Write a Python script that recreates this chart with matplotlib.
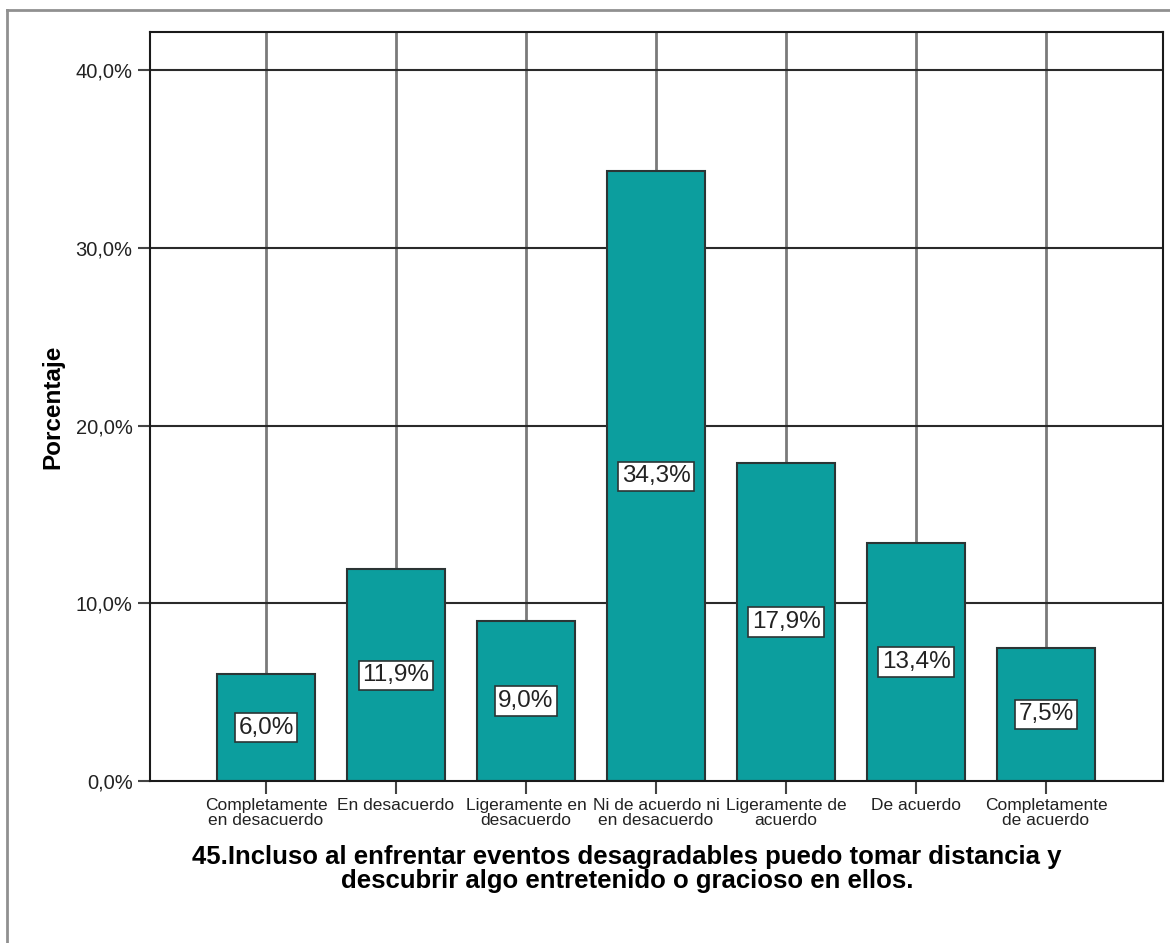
import numpy as np
import matplotlib as mlp
mlp.use('Agg')
import matplotlib.pyplot as plt
from matplotlib.lines import Line2D

mlp.rcParams['font.family'] = ['Liberation Sans', 'DejaVu Sans']

cats = ["Completamente\nen desacuerdo", "En desacuerdo", "Ligeramente en\ndesacuerdo",
        "Ni de acuerdo ni\nen desacuerdo", "Ligeramente de\nacuerdo", "De acuerdo",
        "Completamente\nde acuerdo"]
vals = [6.0, 11.9, 9.0, 34.3, 17.9, 13.4, 7.5]
yticks = [0, 10, 20, 30, 40]
title = ("45.Incluso al enfrentar eventos desagradables puedo tomar distancia y\n"
         "descubrir algo entretenido o gracioso en ellos.")

W, H = 1170, 943
fig = plt.figure(figsize=(W/100, H/100), dpi=100)
ax = fig.add_axes([150/W, 1-781/H, (1163-150)/W, (781-32)/H])

xs = np.arange(1, len(vals)+1)
ax.set_axisbelow(True)
for x in xs:
    ax.axvline(x, color='#7a7a7a', lw=2, zorder=0)
for t in yticks[1:]:
    ax.axhline(t, color='#2a2a2a', lw=1.5, zorder=0)

ax.bar(xs, vals, width=0.76, color='#0c9e9e', edgecolor='#2b3535', lw=1.5, zorder=2)
for x, v in zip(xs, vals):
    ax.text(x, v/2, f"{v:.1f}%".replace('.', ','), ha='center', va='center',
            fontsize=17.5, color='#222222', zorder=3,
            bbox=dict(boxstyle='square,pad=0.15', fc='white', ec='#2b3535', lw=1.2))

ax.set_xlim(1-116/130, 7+117/130)
ax.set_ylim(0, (781-32)/17.775)
ax.set_yticks(yticks)
ax.set_yticklabels([f"{t:.1f}%".replace('.', ',') for t in yticks], fontsize=14.5, color='#222222')
ax.set_xticks(xs)
ax.set_xticklabels(cats, fontsize=12.5, color='#222222', linespacing=0.95)
ax.tick_params(axis='both', length=9, width=1.5, color='#444444')
for s in ax.spines.values():
    s.set_color('#1a1a1a')
    s.set_linewidth(1.5)
ax.set_ylabel('Porcentaje', fontsize=17.5, fontweight='bold', labelpad=8)

fig.text(627/W, 1-869/H, title, ha='center', va='center', fontsize=18.5,
         fontweight='bold', multialignment='center', linespacing=0.95)

# outer frame
fig.add_artist(Line2D([7/W, 7/W], [0, 1-10/H], transform=fig.transFigure, color='#909090', lw=2))
fig.add_artist(Line2D([7/W, 1], [1-10/H, 1-10/H], transform=fig.transFigure, color='#909090', lw=2))

fig.savefig('out.png', dpi=100)
